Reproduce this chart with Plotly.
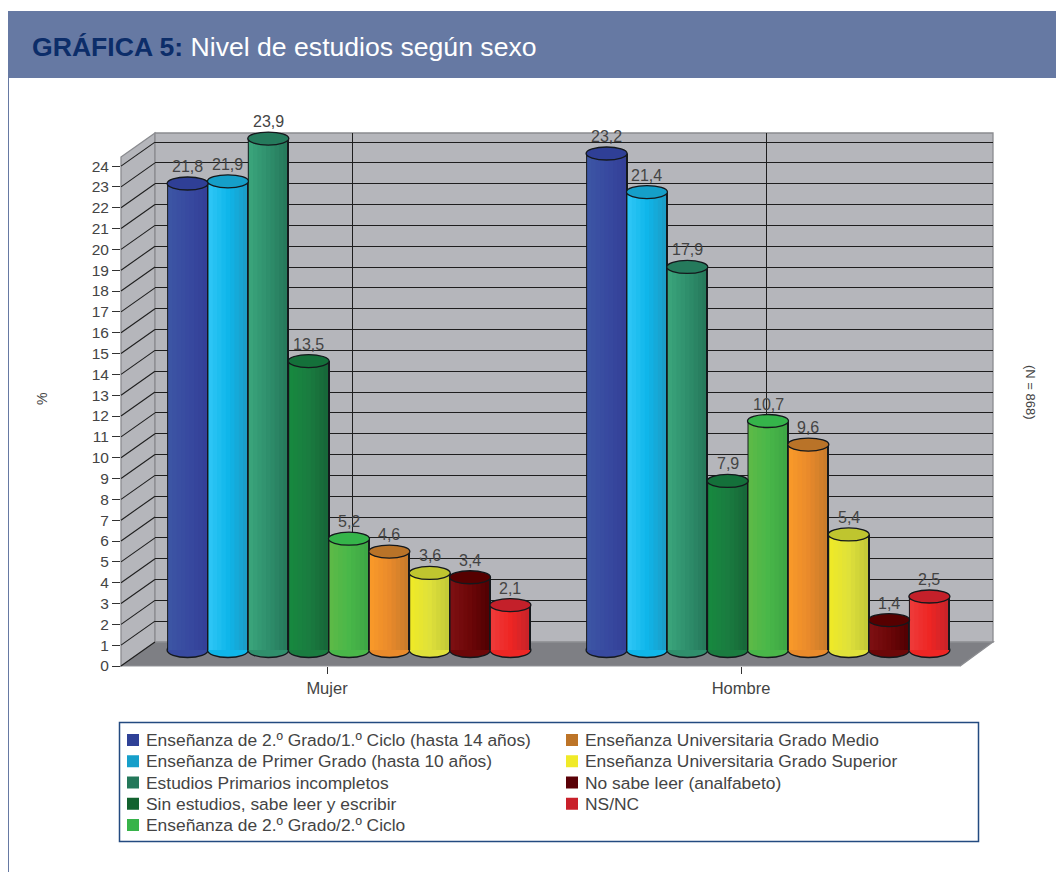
import plotly.graph_objects as go

CATEGORIES = ["Mujer", "Hombre"]
SERIES = [
    "Enseñanza de 2.º Grado/1.º Ciclo (hasta 14 años)",
    "Enseñanza de Primer Grado (hasta 10 años)",
    "Estudios Primarios incompletos",
    "Sin estudios, sabe leer y escribir",
    "Enseñanza de 2.º Grado/2.º Ciclo",
    "Enseñanza Universitaria Grado Medio",
    "Enseñanza Universitaria Grado Superior",
    "No sabe leer (analfabeto)",
    "NS/NC",
]
MUJER = [21.8, 21.9, 23.9, 13.5, 5.2, 4.6, 3.6, 3.4, 2.1]
HOMBRE = [23.2, 21.4, 17.9, 7.9, 10.7, 9.6, 5.4, 1.4, 2.5]
Y_TICKS = list(range(0, 25))
LEGEND_COLORS = ["#2f4197", "#169fca", "#23785a", "#12622f", "#37b34a",
                 "#bd7427", "#f0ea28", "#5a0006", "#c9202a"]
# left, centre, right of each cylinder's shading
SHADES = [
    ("#3d56a5", "#384aa0", "#343f97"),
    ("#30c7f6", "#0fb6ea", "#1c9bc4"),
    ("#3ba67c", "#2f8f6c", "#26775a"),
    ("#17893f", "#1a7c40", "#176538"),
    ("#5eba47", "#49b749", "#3da545"),
    ("#fa9a29", "#e98a2b", "#c57a2b"),
    ("#f0ea26", "#dfe13a", "#c2c838"),
    ("#7e1013", "#6c0708", "#500002"),
    ("#ee3b3b", "#ee2624", "#c6232a"),
]
CAPS = ["#2f3f96", "#159fc9", "#257a5c", "#14703a", "#35b44a",
        "#b97328", "#bfc52f", "#560000", "#c4202a"]

W, H = 1056, 872
FONT = "Liberation Sans"
TXT = "#444444"
BAR_PX = 41.0
STEP_PX = 40.35
GROUP_PX = 419.0
WALL = "#b5b6bb"
EDGE = "#8b8c90"


def fx(x):
    return x / W


def fy(y):
    return 1 - y / H


def hex2rgb(c):
    return tuple(int(c[i:i + 2], 16) for i in (1, 3, 5))


def mix(a, b, t):
    ra, rb = hex2rgb(a), hex2rgb(b)
    return "rgb(%d,%d,%d)" % tuple(round(p + (q - p) * t) for p, q in zip(ra, rb))


fig = go.Figure()
idx = list(range(len(CATEGORIES)))
N_STRIPS = 9
EDGE_PX = 1.0
shapes = []
annotations = []

# page furniture
shapes.append(dict(type="rect", xref="paper", yref="paper", x0=fx(8), x1=1, y0=fy(78), y1=fy(11),
                   fillcolor="#6679a3", line_width=0, layer="below"))
shapes.append(dict(type="line", xref="paper", yref="paper", x0=fx(8.5), x1=fx(8.5), y0=0, y1=fy(78),
                   line=dict(color="#6679a3", width=1), layer="below"))
# 3-D box: floor, left wall, back wall
for path, fill in [
    ("M121,666 L155,642 L993,642 L960,666 Z", "#7e7f84"),
    ("M121,157 L155,133 L155,642 L121,666 Z", WALL),
    ("M155,133 L993,133 L993,642 L155,642 Z", WALL),
]:
    pts = []
    for tok in path.split():
        if tok == "Z":
            pts.append("Z")
        else:
            c, rest = tok[0], tok[1:]
            xs, ys = rest.split(",")
            pts.append(f"{c}{fx(float(xs)):.5f},{fy(float(ys)):.5f}")
    shapes.append(dict(type="path", xref="paper", yref="paper", path=" ".join(pts), fillcolor=fill,
                       line=dict(color=EDGE, width=1.3), layer="below"))
shapes.append(dict(type="line", xref="paper", yref="paper", x0=fx(121), x1=fx(960), y0=fy(666.5), y1=fy(666.5),
                   line=dict(color="#c9cacc", width=1.2), layer="below"))
# left-wall grid, from each front tick to the matching back-wall line
for t in Y_TICKS:
    shapes.append(dict(type="line", xref="paper", yref="paper",
                       x0=fx(121), y0=fy(666 - t * 20.83), x1=fx(155), y1=fy(642 - t * 20.83),
                       line=dict(color="#1e1e1e", width=1.1), layer="below"))

# back wall subplot (xy), only gridlines
fig.add_trace(go.Scatter(x=CATEGORIES, y=[None, None], xaxis="x", yaxis="y", showlegend=False, hoverinfo="skip"))
# front axes subplot (x2y2), ticks and labels
fig.add_trace(go.Scatter(x=CATEGORIES, y=[None, None], xaxis="x2", yaxis="y2", showlegend=False, hoverinfo="skip"))

# cylinders: thin bar strips giving the shading
for s, name in enumerate(SERIES):
    vals = [MUJER[s], HOMBRE[s]]
    centre = (s - 4) * STEP_PX
    left = centre - BAR_PX / 2
    inner = (BAR_PX - 2 * EDGE_PX) / N_STRIPS
    a, b, c = SHADES[s]
    strips = [(left, EDGE_PX + 1.0, "#14181c")]
    for k in range(N_STRIPS):
        t = (k + 0.5) / N_STRIPS
        col = mix(a, b, t * 2) if t < 0.5 else mix(b, c, (t - 0.5) * 2)
        strips.append((left + EDGE_PX + k * inner, inner + 1.0, col))
    strips.append((left + BAR_PX - EDGE_PX, EDGE_PX, "#14181c"))
    # base ellipses sit below the strips
    for i, v in zip(idx, vals):
        shapes.append(dict(type="circle", xref="x3", yref="y3", xsizemode="pixel", ysizemode="pixel",
                           xanchor=i + centre / GROUP_PX, yanchor=0,
                           x0=-BAR_PX / 2, x1=BAR_PX / 2, y0=-7.5, y1=7.5,
                           fillcolor=b, line=dict(color="#14181c", width=1.3), layer="below"))
        shapes.append(dict(type="circle", xref="x3", yref="y3", xsizemode="pixel", ysizemode="pixel",
                           xanchor=i + centre / GROUP_PX, yanchor=v,
                           x0=-BAR_PX / 2, x1=BAR_PX / 2, y0=-6.5, y1=6.5,
                           fillcolor=CAPS[s], line=dict(color="#14181c", width=1.3), layer="above"))
        annotations.append(dict(xref="x3", yref="y3", x=i + centre / GROUP_PX, y=v, yshift=17,
                                text=f"{v:.1f}".replace(".", ","), showarrow=False,
                                font=dict(family=FONT, size=16, color=TXT)))
    for off, wid, col in strips:
        fig.add_trace(go.Bar(x=idx, y=vals, offset=off / GROUP_PX, width=wid / GROUP_PX,
                             marker=dict(color=col, line=dict(width=0)),
                             xaxis="x3", yaxis="y3", showlegend=False, hoverinfo="skip"))

# legend panel: two columns, read top to bottom
LEFT_COL = 5
shapes.append(dict(type="rect", xref="paper", yref="paper", x0=fx(119.5), x1=fx(978.5), y0=fy(841.5), y1=fy(722.5),
                   line=dict(color="#234a80", width=1.5), fillcolor="rgba(0,0,0,0)", layer="below"))
for s, name in enumerate(SERIES):
    col, row = (0, s) if s < LEFT_COL else (1, s - LEFT_COL)
    x_sq = 127 + 439 * col
    y_row = 740 + 21.25 * row
    shapes.append(dict(type="rect", xref="paper", yref="paper", x0=fx(x_sq), x1=fx(x_sq + 12),
                       y0=fy(y_row + 6), y1=fy(y_row - 6), fillcolor=LEGEND_COLORS[s], line_width=0, layer="below"))
    annotations.append(dict(xref="paper", yref="paper", x=fx(x_sq + 17), y=fy(y_row), xanchor="left", yanchor="middle",
                            text=name, showarrow=False, font=dict(family=FONT, size=17.4, color=TXT)))

annotations += [
    dict(xref="paper", yref="paper", x=fx(30), y=fy(47), xanchor="left", yanchor="middle", showarrow=False,
         text="<b><span style='color:#0c2d69'>GRÁFICA 5:</span></b> Nivel de estudios según sexo",
         font=dict(family=FONT, size=26.6, color="white")),
    dict(xref="paper", yref="paper", x=fx(42), y=fy(399), xanchor="center", yanchor="middle", textangle=-90,
         showarrow=False, text="%", font=dict(family=FONT, size=14, color=TXT)),
    dict(xref="paper", yref="paper", x=fx(1031), y=fy(392), xanchor="center", yanchor="middle", textangle=90,
         showarrow=False, text="(N = 868)", font=dict(family=FONT, size=13, color=TXT)),
]

fig.update_layout(
    width=W, height=H, margin=dict(l=0, r=0, t=0, b=0, pad=0, autoexpand=False),
    paper_bgcolor="white", plot_bgcolor="rgba(0,0,0,0)", showlegend=False,
    barmode="overlay", shapes=shapes, annotations=annotations, hovermode=False,
    font=dict(family=FONT, color=TXT, size=15),
    xaxis=dict(domain=[fx(155), fx(993)], type="category", categoryorder="array", categoryarray=CATEGORIES,
               range=[(155 - 352) / 414, (993 - 352) / 414], showgrid=True, gridcolor="#1e1e1e", gridwidth=1.1,
               showticklabels=False, ticks="", zeroline=False, showline=False, anchor="y"),
    yaxis=dict(domain=[fy(642), fy(133)], range=[0, 509 / 20.83], tickvals=Y_TICKS, showgrid=True,
               gridcolor="#1e1e1e", gridwidth=1.1, showticklabels=False, ticks="", zeroline=False, anchor="x"),
    xaxis2=dict(domain=[fx(121), fx(960)], type="category", categoryorder="array", categoryarray=CATEGORIES,
                range=[(121 - 327) / 414, (960 - 327) / 414], showgrid=False, ticks="outside", ticklen=7,
                tickcolor="#333333", tickfont=dict(family=FONT, size=16.5, color=TXT), zeroline=False,
                showline=False, anchor="y2"),
    yaxis2=dict(domain=[fy(666), fy(157)], range=[0, 509 / 20.83], tickvals=Y_TICKS, showgrid=False,
                ticks="outside", ticklen=8, tickcolor="#333333", tickfont=dict(family=FONT, size=15.5, color=TXT),
                zeroline=False, showline=False, anchor="x2"),
    xaxis3=dict(domain=[fx(121), fx(993)], range=[(121 - 349) / GROUP_PX, (993 - 349) / GROUP_PX], visible=False,
                anchor="y3"),
    yaxis3=dict(domain=[fy(670), fy(120)], range=[-20 / 21.4, 530 / 21.4], visible=False, anchor="x3"),
)

fig.write_html("out.html", config=dict(displayModeBar=False),
               post_script="document.body.style.margin='0';document.body.style.overflow='hidden';")
